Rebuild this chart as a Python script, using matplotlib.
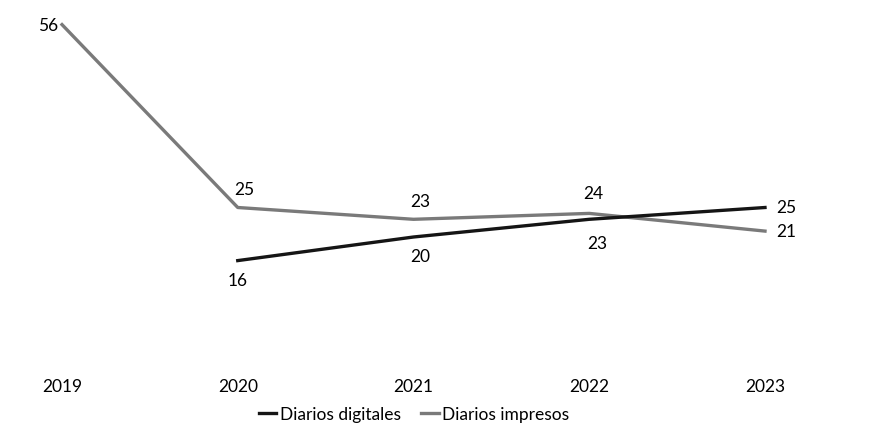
import matplotlib.pyplot as plt
from matplotlib.lines import Line2D

years = [2019, 2020, 2021, 2022, 2023]
digitales_years = [2020, 2021, 2022, 2023]
digitales = [16, 20, 23, 25]
impresos = [56, 25, 23, 24, 21]

plt.rcParams["font.family"] = ["Lato", "DejaVu Sans"]
plt.rcParams["font.size"] = 12.5

fig = plt.figure(figsize=(8.92, 4.31), dpi=100)
ax = fig.add_axes([0, 66 / 431, 1, 355 / 431])

ax.plot(years, impresos, color="#7a7a7a", lw=2.4, solid_joinstyle="round")
ax.plot(digitales_years, digitales, color="#151515", lw=2.4, solid_joinstyle="round")

# data labels: (dx, dy) offsets in points
imp_off = [(-3, 0), (5, 13), (5, 13), (3, 15), (8, 0)]
dig_off = [(0, -14), (5, -14), (6, -17), (8, 0)]
for x, v, (dx, dy) in zip(years, impresos, imp_off):
    ha = "right" if dx < 0 else ("left" if dx >= 8 else "center")
    ax.annotate(str(v), (x, v), xytext=(dx, dy), textcoords="offset points",
                ha=ha, va="center")
for x, v, (dx, dy) in zip(digitales_years, digitales, dig_off):
    ha = "left" if dx >= 8 else "center"
    ax.annotate(str(v), (x, v), xytext=(dx, dy), textcoords="offset points",
                ha=ha, va="center")

ax.set_xlim(2019 - 62 / 175.75, 2019 + 830 / 175.75)
ax.set_ylim(-9 / 5.9, 346 / 5.9)
ax.set_xticks(years)
ax.set_xticklabels([str(y) for y in years])
ax.set_yticks([])
ax.tick_params(axis="x", length=0, pad=10)
for s in ax.spines.values():
    s.set_visible(False)

handles = [Line2D([], [], color="#151515", lw=2.4),
           Line2D([], [], color="#7a7a7a", lw=2.4)]
fig.legend(handles, ["Diarios digitales", "Diarios impresos"], loc="center",
           bbox_to_anchor=(414 / 892, 1 - 415 / 431), ncol=2, frameon=False,
           handlelength=1.0, handletextpad=0.2, columnspacing=1.2)

fig.savefig("out.png", dpi=100)
